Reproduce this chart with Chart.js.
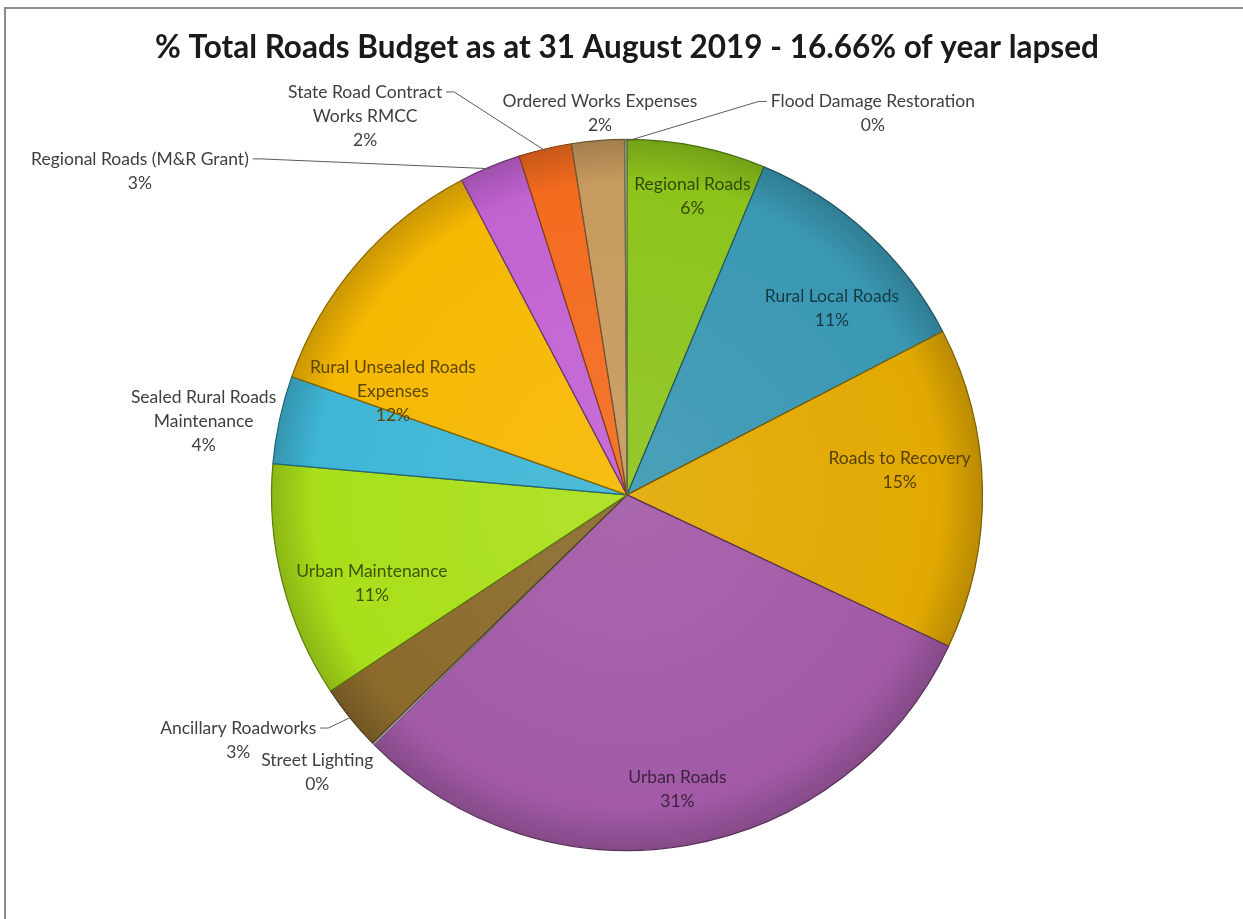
<!DOCTYPE html>
<html>
<head>
<meta charset="utf-8">
<script src="https://cdn.jsdelivr.net/npm/chart.js@4.4.1/dist/chart.umd.min.js"></script>
<style>
  html, body { margin: 0; padding: 0; background: #fff; }
  #frame {
    position: absolute; left: 4px; top: 7px; right: 0; bottom: 0;
    border-top: 2px solid #8c8c8c; border-left: 2px solid #8c8c8c;
  }
  #wrap { position: absolute; left: 0; top: 0; width: 1243px; height: 919px; }
</style>
</head>
<body>
<div id="frame"></div>
<div id="wrap"><canvas id="grafico" width="1243" height="919"></canvas></div>
<script>
// budget categories, clockwise from 12 o'clock
const categorias = [
  'Regional Roads',
  'Rural Local Roads',
  'Roads to Recovery',
  'Urban Roads',
  'Street Lighting',
  'Ancillary Roadworks',
  'Urban Maintenance',
  'Sealed Rural Roads Maintenance',
  'Rural Unsealed Roads Expenses',
  'Regional Roads (M&R Grant)',
  'State Road Contract Works RMCC',
  'Ordered Works Expenses',
  'Flood Damage Restoration',
]
// share of total roads budget (%)
const valores = [6.3, 11.1, 14.6, 30.6, 0.1, 3.0, 10.7, 4.0, 11.9, 2.8, 2.4, 2.4, 0.1]

const cores = [
  '#8cc41c', '#3a98b3', '#e2a902', '#a25aa6', '#d8c8e0', '#8b6a2c', '#a9df1a',
  '#3fb6d6', '#f6b802', '#c263d2', '#f36b1f', '#c79a5e', '#b8c890',
]

// label text split into lines the way they are drawn
const quebras = {
  'Rural Unsealed Roads Expenses': ['Rural Unsealed Roads', 'Expenses'],
  'Sealed Rural Roads Maintenance': ['Sealed Rural Roads', 'Maintenance'],
  'State Road Contract Works RMCC': ['State Road Contract', 'Works RMCC'],
}

// labels set outside the pie: offset from the slice rim, and whether a leader line is drawn
const foraDaPizza = {
  'Flood Damage Restoration': { dx: 247, dy: -26, linha: true },
  'Ordered Works Expenses': { dx: 2, dy: -27, linha: false },
  'State Road Contract Works RMCC': { dx: -180, dy: -33, linha: true },
  'Regional Roads (M&R Grant)': { dx: -350, dy: 4, linha: true },
  'Sealed Rural Roads Maintenance': { dx: -76, dy: 2, linha: false },
  'Ancillary Roadworks': { dx: -112, dy: 22, linha: true },
  'Street Lighting': { dx: -56, dy: 28, linha: false },
}

// small nudges (angle in degrees, radius fraction) for labels inside the slices
const ajusteDentro = {
  'Regional Roads': { ang: 1, r: 0.86 },
  'Rural Local Roads': { ang: 5, r: 0.78 },
  'Roads to Recovery': { ang: -4, r: 0.77 },
  'Urban Roads': { ang: 0, r: 0.84 },
  'Urban Maintenance': { ang: -5, r: 0.76 },
  'Rural Unsealed Roads Expenses': { ang: -17, r: 0.72 },
}

function misturar(hex, alvo, t) {
  const n = parseInt(hex.slice(1), 16)
  const r = (n >> 16) & 255, g = (n >> 8) & 255, b = n & 255
  const m = (c) => Math.round(c + (alvo - c) * t)
  return `rgb(${m(r)}, ${m(g)}, ${m(b)})`
}

const fonteRotulo = '17.5px Lato, "Open Sans", sans-serif'
const alturaLinha = 24

function linhasDe(nome, i) {
  const total = valores.reduce((a, b) => a + b, 0)
  const pct = Math.round((valores[i] / total) * 100) + '%'
  return (quebras[nome] || [nome]).concat([pct])
}

const rotulosPlugin = {
  id: 'rotulos',
  afterDatasetsDraw(chart) {
    const ctx = chart.ctx
    const arcos = chart.getDatasetMeta(0).data
    ctx.save()
    ctx.font = fonteRotulo
    ctx.textAlign = 'center'
    ctx.textBaseline = 'middle'
    arcos.forEach((arco, i) => {
      const nome = categorias[i]
      const { x, y, startAngle, endAngle, outerRadius } = arco.getProps(
        ['x', 'y', 'startAngle', 'endAngle', 'outerRadius'], true)
      const meio = (startAngle + endAngle) / 2
      const linhas = linhasDe(nome, i)
      const h = linhas.length * alturaLinha
      const fora = foraDaPizza[nome]
      if (fora) {
        const bx = x + Math.cos(meio) * outerRadius
        const by = y + Math.sin(meio) * outerRadius
        const cx = bx + fora.dx
        const cy = by + fora.dy
        const topo = cy - h / 2 + alturaLinha / 2
        ctx.fillStyle = '#404040'
        linhas.forEach((t, k) => ctx.fillText(t, cx, topo + k * alturaLinha))
        if (fora.linha) {
          const w = ctx.measureText(linhas[0]).width
          const lado = fora.dx > 0 ? -1 : 1
          const ax = cx + lado * (w / 2 + 4)
          const ay = topo
          ctx.strokeStyle = '#5a5a5a'
          ctx.lineWidth = 1
          ctx.beginPath()
          ctx.moveTo(ax, ay)
          ctx.lineTo(ax + lado * 8, ay)
          ctx.lineTo(bx - Math.cos(meio) * 2, by - Math.sin(meio) * 2)
          ctx.stroke()
        }
      } else {
        const aj = ajusteDentro[nome] || { ang: 0, r: 0.8 }
        const a = meio + (aj.ang * Math.PI) / 180
        const cx = x + Math.cos(a) * outerRadius * aj.r
        const cy = y + Math.sin(a) * outerRadius * aj.r
        const topo = cy - h / 2 + alturaLinha / 2
        ctx.fillStyle = misturar(cores[i], 0, 0.62)
        linhas.forEach((t, k) => ctx.fillText(t, cx, topo + k * alturaLinha))
      }
    })
    ctx.restore()
  },
}

function preenchimento(context) {
  const chart = context.chart
  const base = cores[context.dataIndex]
  const area = chart.chartArea
  if (!area) return base
  const cx = (area.left + area.right) / 2
  const cy = (area.top + area.bottom) / 2
  const r = Math.min(area.right - area.left, area.bottom - area.top) / 2
  const g = chart.ctx.createRadialGradient(cx, cy, 0, cx, cy, r)
  g.addColorStop(0, misturar(base, 255, 0.08))
  g.addColorStop(0.88, base)
  g.addColorStop(1, misturar(base, 0, 0.18))
  return g
}

new Chart(document.getElementById('grafico'), {
  type: 'pie',
  data: {
    labels: categorias,
    datasets: [{
      data: valores,
      backgroundColor: preenchimento,
      borderColor: cores.map((c) => misturar(c, 0, 0.45)),
      borderWidth: 1.2,
    }],
  },
  options: {
    responsive: false,
    animation: false,
    events: [],
    layout: { padding: { left: 11, right: 0, top: 0, bottom: 68 } },
    plugins: {
      legend: { display: false },
      tooltip: { enabled: false },
      title: {
        display: true,
        text: '% Total Roads Budget as at 31 August 2019 - 16.66% of year lapsed',
        color: '#1a1a1a',
        font: { family: 'Lato, "Open Sans", sans-serif', size: 31.5, weight: 'bold', lineHeight: 1.2 },
        padding: { top: 29, bottom: 72 },
      },
    },
  },
  plugins: [rotulosPlugin],
})
</script>
</body>
</html>
